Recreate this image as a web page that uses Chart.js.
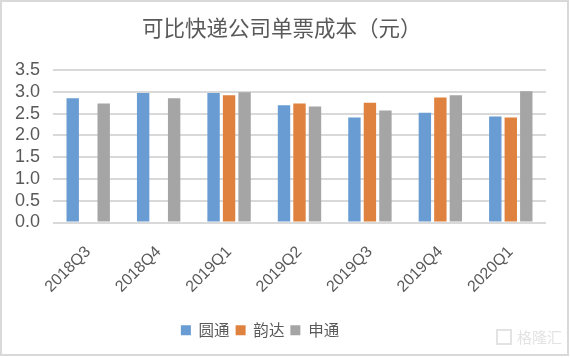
<!DOCTYPE html>
<html>
<head>
<meta charset="utf-8">
<script src="https://cdn.jsdelivr.net/npm/chart.js@4"></script>
<style>
html,body{margin:0;padding:0;background:#fff;}
#wrap{width:570px;height:358px;position:relative;}
</style>
</head>
<body>
<div id="wrap"><canvas id="c" width="570" height="358"></canvas></div>
<script>
const categories = ['2018Q3','2018Q4','2019Q1','2019Q2','2019Q3','2019Q4','2020Q1'];
const yuantong = [2.85, 2.97, 2.97, 2.69, 2.41, 2.52, 2.43];
const yunda    = [null, null, 2.92, 2.73, 2.75, 2.87, 2.41];
const shentong = [2.73, 2.85, 2.99, 2.66, 2.57, 2.92, 3.01];
const seriesNames = ['圆通','韵达','申通'];
const yTicks = ['0.0','0.5','1.0','1.5','2.0','2.5','3.0','3.5'];
const titleText = '可比快递公司单票成本（元）';

const FONT = '"Liberation Sans", Arial, "Noto Sans CJK SC", sans-serif';
const GRAY = '#595959';

const framePlugin = {
  id: 'frame',
  beforeDraw(chart) {
    const ctx = chart.ctx;
    ctx.save();
    ctx.fillStyle = '#fff';
    ctx.fillRect(0, 0, chart.width, chart.height);
    ctx.restore();
  },
  afterLayout(chart) {
    if (chart.legend) { chart.legend.left -= 13; chart.legend.right -= 13; }
  },
  afterDraw(chart) {
    const ctx = chart.ctx;
    ctx.save();
    ctx.fillStyle = GRAY;
    ctx.font = '21.5px "Noto Sans CJK SC", sans-serif';
    ctx.textAlign = 'left';
    ctx.textBaseline = 'middle';
    ctx.fillText(titleText, 142, 28);
    ctx.strokeStyle = '#d9d9d9';
    ctx.lineWidth = 2;
    ctx.strokeRect(1, 1, 567, 354);
    ctx.fillStyle = '#e3e3e3';
    ctx.font = '15px "Noto Sans CJK SC", sans-serif';
    ctx.fillText('格隆汇', 517, 337);
    ctx.strokeStyle = '#e3e3e3';
    ctx.lineWidth = 2;
    ctx.strokeRect(497, 330, 14, 14);
    ctx.restore();
  }
};

new Chart(document.getElementById('c'), {
  type: 'bar',
  data: {
    labels: categories,
    datasets: [
      { label: seriesNames[0], data: yuantong, backgroundColor: '#689cd2' },
      { label: seriesNames[1], data: yunda, backgroundColor: '#e0823f' },
      { label: seriesNames[2], data: shentong, backgroundColor: '#a5a5a5' }
    ]
  },
  options: {
    responsive: false,
    animation: false,
    devicePixelRatio: 1,
    layout: { padding: { left: 0, right: 24, top: 70, bottom: 10 } },
    datasets: { bar: { categoryPercentage: 0.66, barPercentage: 0.8 } },
    plugins: {
      title: { display: false },
      legend: {
        position: 'bottom',
        labels: {
          boxWidth: 10, boxHeight: 10, padding: 6,
          color: GRAY,
          font: { family: '"Noto Sans CJK SC", sans-serif', size: 15.5 }
        }
      },
      tooltip: { enabled: false }
    },
    scales: {
      x: {
        grid: { display: false, drawTicks: false },
        border: { display: false },
        ticks: {
          color: GRAY, minRotation: 45, maxRotation: 45, padding: 20,
          autoSkip: false,
          font: { family: FONT, size: 16 }
        },
        afterFit(s) { s.height = 94; }
      },
      y: {
        min: 0, max: 3.5,
        grid: { color: '#d9d9d9', lineWidth: 2, drawTicks: false },
        border: { display: false },
        ticks: {
          stepSize: 0.5, padding: 13, color: GRAY, autoSkip: false,
          font: { family: FONT, size: 18 },
          callback: (v, i) => yTicks[i]
        },
        afterFit(s) { s.width = 53; }
      }
    }
  },
  plugins: [framePlugin]
});
</script>
</body>
</html>
